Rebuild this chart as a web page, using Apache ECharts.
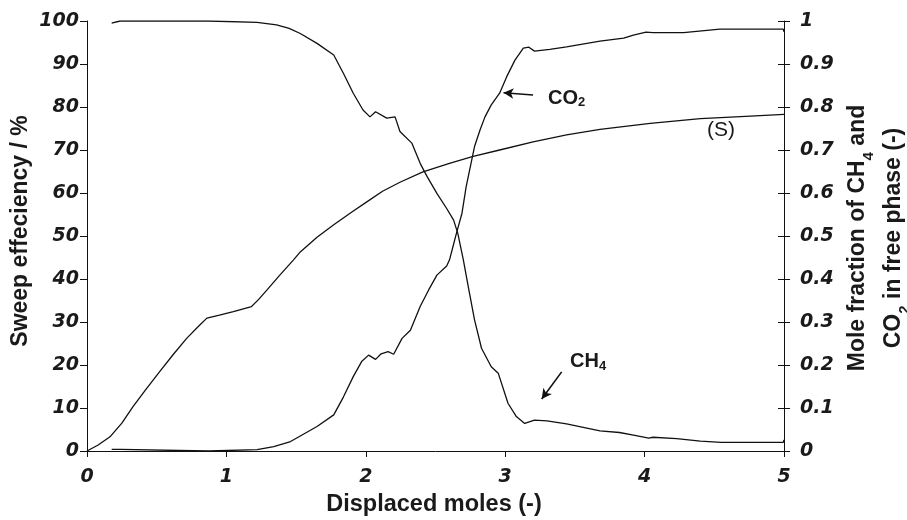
<!DOCTYPE html>
<html>
<head>
<meta charset="utf-8">
<script src="https://cdn.jsdelivr.net/npm/echarts@6/dist/echarts.min.js"></script>
<style>
  html, body { margin: 0; padding: 0; background: #ffffff; }
  #chart { width: 907px; height: 520px; }
</style>
</head>
<body>
<div id="chart"></div>
<script>
// Sweep efficiency (%) against displaced moles
const sweepX = [0, 0.08, 0.165, 0.25, 0.33, 0.42, 0.52, 0.62, 0.715, 0.80, 0.86, 0.95, 1.05, 1.18, 1.23, 1.29, 1.38, 1.48, 1.53, 1.65, 1.77, 1.90, 2.01, 2.12, 2.245, 2.41, 2.60, 2.77, 2.96, 3.20, 3.44, 3.68, 4.04, 4.40, 4.76, 5.00];
const sweepY = [0, 1.4, 3.3, 6.5, 10.3, 14.2, 18.4, 22.5, 26.2, 29.0, 30.9, 31.6, 32.4, 33.6, 35.2, 37.4, 40.8, 44.4, 46.3, 49.7, 52.6, 55.6, 58.0, 60.4, 62.5, 64.9, 66.9, 68.5, 70.0, 71.9, 73.5, 74.8, 76.2, 77.3, 77.9, 78.3];

// CH4 mole fraction in the free phase
const ch4X = [0.177, 0.18, 0.237, 0.87, 0.875, 1.22, 1.36, 1.45, 1.53, 1.65, 1.77, 1.84, 1.91, 1.98, 2.03, 2.07, 2.15, 2.21, 2.245, 2.33, 2.39, 2.44, 2.51, 2.58, 2.63, 2.66, 2.70, 2.735, 2.78, 2.83, 2.90, 2.95, 3.02, 3.08, 3.14, 3.21, 3.30, 3.44, 3.68, 3.82, 3.92, 4.03, 4.06, 4.23, 4.40, 4.55, 4.995, 5.00];
const ch4Y = [0.995, 0.997, 1.0, 1.0, 0.998, 0.997, 0.991, 0.983, 0.971, 0.948, 0.921, 0.878, 0.832, 0.793, 0.777, 0.789, 0.774, 0.777, 0.743, 0.716, 0.669, 0.638, 0.599, 0.564, 0.537, 0.506, 0.444, 0.382, 0.305, 0.239, 0.196, 0.181, 0.111, 0.080, 0.064, 0.072, 0.070, 0.063, 0.047, 0.043, 0.037, 0.030, 0.032, 0.029, 0.023, 0.020, 0.020, 0.026];

// CO2 mole fraction in the free phase
const co2X = [0.177, 0.18, 0.24, 0.245, 0.87, 0.875, 1.22, 1.34, 1.46, 1.53, 1.65, 1.77, 1.84, 1.91, 1.97, 2.02, 2.07, 2.11, 2.16, 2.20, 2.26, 2.32, 2.39, 2.45, 2.51, 2.58, 2.60, 2.625, 2.65, 2.69, 2.72, 2.76, 2.78, 2.82, 2.855, 2.90, 2.96, 3.01, 3.07, 3.13, 3.17, 3.21, 3.32, 3.44, 3.68, 3.85, 3.92, 4.01, 4.06, 4.28, 4.54, 4.995, 5.00];
const co2Y = [0.004, 0.004, 0.004, 0.0, 0.0, 0.002, 0.003, 0.010, 0.022, 0.035, 0.057, 0.084, 0.126, 0.173, 0.208, 0.223, 0.213, 0.226, 0.231, 0.225, 0.262, 0.281, 0.336, 0.374, 0.409, 0.430, 0.444, 0.475, 0.506, 0.553, 0.615, 0.677, 0.708, 0.747, 0.777, 0.805, 0.832, 0.870, 0.909, 0.937, 0.939, 0.930, 0.934, 0.940, 0.953, 0.960, 0.967, 0.974, 0.973, 0.973, 0.981, 0.981, 0.975];

// Axis ranges and tick steps
const xRange = [0, 5, 1];
const leftRange = [0, 100, 10];
const rightRange = [0, 1, 0.1];

// Annotation anchors (data coordinates)
const co2Arrow = [[3.20, 0.828], [2.988, 0.833]];
const ch4Arrow = [[3.405, 0.184], [3.262, 0.121]];
const co2LabelAt = [3.307, 0.820];
const ch4LabelAt = [3.465, 0.208];
const sweepLabelAt = [4.448, 74.6];

const pairs = (xs, ys) => xs.map((x, i) => [x, ys[i]]);

const ink = '#111111';
const tickFont = { fontFamily: 'DejaVu Sans', fontWeight: 'bold', fontStyle: 'italic', fontSize: 19, color: '#1a1a1a' };
const titleFont = 'Liberation Sans';

const chart = echarts.init(document.getElementById('chart'), null, { renderer: 'canvas' });

const subRich = {
  a: { fontFamily: titleFont, fontWeight: 'bold', fontSize: 20, color: '#1a1a1a', lineHeight: 22 },
  b: { fontFamily: titleFont, fontWeight: 'bold', fontSize: 13, color: '#1a1a1a', lineHeight: 14, verticalAlign: 'bottom' }
};

chart.setOption({
  animation: false,
  backgroundColor: '#ffffff',
  grid: { left: 87, right: 123, top: 21, bottom: 69, containLabel: false },
  xAxis: {
    type: 'value', min: xRange[0], max: xRange[1], interval: xRange[2],
    axisLine: { show: true, onZero: false, lineStyle: { color: ink, width: 1 } },
    axisTick: { show: true, inside: false, length: 6, lineStyle: { color: ink } },
    axisLabel: Object.assign({ margin: 17 }, tickFont),
    splitLine: { show: false }
  },
  yAxis: [
    {
      type: 'value', position: 'left', min: leftRange[0], max: leftRange[1], interval: leftRange[2],
      axisLine: { show: true, lineStyle: { color: ink, width: 1 } },
      axisTick: { show: true, inside: false, length: 7, lineStyle: { color: ink } },
      axisLabel: Object.assign({ margin: 8 }, tickFont),
      splitLine: { show: false }
    },
    {
      type: 'value', position: 'right', min: rightRange[0], max: rightRange[1], interval: rightRange[2],
      axisLine: { show: true, lineStyle: { color: ink, width: 1 } },
      axisTick: { show: true, inside: false, length: 6, lineStyle: { color: ink } },
      axisLabel: Object.assign({ margin: 16, formatter: v => String(+v.toFixed(1)) }, tickFont),
      splitLine: { show: false }
    },
    {
      // inner half of the crossing ticks on the right-hand axis
      type: 'value', position: 'right', min: rightRange[0], max: rightRange[1], interval: rightRange[2],
      axisLine: { show: false },
      axisTick: { show: true, inside: true, length: 6, lineStyle: { color: ink } },
      axisLabel: { show: false },
      splitLine: { show: false }
    }
  ],
  graphic: [
    {
      type: 'text', x: 21, y: 231, rotation: Math.PI / 2,
      style: {
        text: 'Sweep effeciency / %', fill: '#1a1a1a',
        font: 'bold 23px "Liberation Sans"', align: 'center', verticalAlign: 'middle'
      }
    },
    {
      type: 'text', x: 434, y: 505,
      style: {
        text: 'Displaced moles (-)', fill: '#1a1a1a',
        font: 'bold 23.5px "Liberation Sans"', align: 'center', verticalAlign: 'middle'
      }
    },
    {
      type: 'text', x: 876, y: 238, rotation: Math.PI / 2,
      style: {
        text: '{a|Mole fraction of CH}{b|4}{a| and}\n{a|CO}{b|2}{a| in free phase (-)}',
        align: 'center', verticalAlign: 'middle',
        rich: {
          a: { fontFamily: titleFont, fontWeight: 'bold', fontSize: 23, fill: '#1a1a1a', lineHeight: 36 },
          b: { fontFamily: titleFont, fontWeight: 'bold', fontSize: 15, fill: '#1a1a1a', lineHeight: 28, verticalAlign: 'bottom' }
        }
      }
    }
  ],
  series: [
    {
      name: 'S', type: 'line', xAxisIndex: 0, yAxisIndex: 0,
      data: pairs(sweepX, sweepY), showSymbol: false, symbol: 'none',
      lineStyle: { color: ink, width: 1.3 },
      markPoint: {
        symbol: 'circle', symbolSize: 0, silent: true,
        label: {
          show: true, position: 'right', distance: 0, formatter: '(S)',
          fontFamily: titleFont, fontSize: 21, fontWeight: 'normal', color: '#1a1a1a'
        },
        data: [{ coord: sweepLabelAt }]
      }
    },
    {
      name: 'CH4', type: 'line', xAxisIndex: 0, yAxisIndex: 1,
      data: pairs(ch4X, ch4Y), showSymbol: false, symbol: 'none',
      lineStyle: { color: ink, width: 1.3 },
      markLine: {
        silent: true, symbol: ['none', 'arrow'], symbolSize: [8, 10], precision: 4,
        lineStyle: { color: ink, width: 1.6, type: 'solid' }, label: { show: false },
        data: [[{ coord: ch4Arrow[0] }, { coord: ch4Arrow[1] }]]
      },
      markPoint: {
        symbol: 'circle', symbolSize: 0, silent: true,
        label: { show: true, position: 'right', distance: 0, formatter: '{a|CH}{b|4}', rich: subRich },
        data: [{ coord: ch4LabelAt }]
      }
    },
    {
      name: 'CO2', type: 'line', xAxisIndex: 0, yAxisIndex: 1,
      data: pairs(co2X, co2Y), showSymbol: false, symbol: 'none',
      lineStyle: { color: ink, width: 1.3 },
      markLine: {
        silent: true, symbol: ['none', 'arrow'], symbolSize: [8, 10], precision: 4,
        lineStyle: { color: ink, width: 1.6, type: 'solid' }, label: { show: false },
        data: [[{ coord: co2Arrow[0] }, { coord: co2Arrow[1] }]]
      },
      markPoint: {
        symbol: 'circle', symbolSize: 0, silent: true,
        label: { show: true, position: 'right', distance: 0, formatter: '{a|CO}{b|2}', rich: subRich },
        data: [{ coord: co2LabelAt }]
      }
    }
  ]
});
</script>
</body>
</html>
